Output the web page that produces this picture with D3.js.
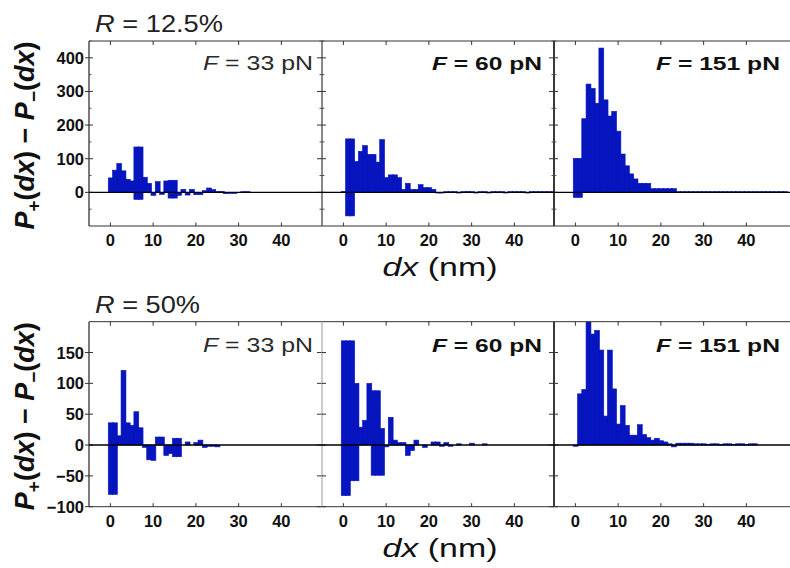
<!DOCTYPE html>
<html><head><meta charset="utf-8">
<script src="https://cdn.jsdelivr.net/npm/d3@7"></script>
<style>body{margin:0;background:#fff} svg{display:block}</style>
</head><body>
<svg id="c" width="790" height="568"></svg>
<script>
// ---------------- data ----------------
const forceLabels = ["33", "60", "151"];
const ratioLabels = ["12.5%", "50%"];
const xTickValues = [0, 10, 20, 30, 40];
const yTicksTop = [0, 100, 200, 300, 400];
const yMinorTop = [-50, 50, 150, 250, 350, 450];
const yTicksBottom = [-100, -50, 0, 50, 100, 150];
const yDomainTop = [-100, 450];
const yDomainBottom = [-100, 200];

// P+(dx) - P-(dx), one value per 1-nm bin, bin index = dx (starting at 0)
const r125_f33 = [43, 66, 86, 64, 39, 34, 135, 135, 45, 27, -9, 32, -6, 34, 36, 36, -9, 9, -8, 9, -7, -7, 5, 13, 8, 3, 3, -4, -3, -3, 0, 2, 2];
const r125_f60 = [3, 159, 159, 92, 122, 139, 113, 113, 90, 157, 44, 52, 52, 44, 9, 27, 9, 9, 23, 14, 14, 9, -2, -2, 2, 2, 2, -2, 2, 3, 2, -2, 2, 2, -2, 2, 2, 2, -2, 2, 2, 2, 2, -2, 2, 2, 2, 2, 2, 2];
const r125_f151 = [101, 101, 219, 322, 309, 265, 429, 275, 227, 241, 182, 114, 79, 55, 40, 27, 27, 27, 11, 11, 11, 11, 11, 11, 2, 2, 2, 2, 2, 2, 2, 2, 2, 2, 2, 2, 2, 2, 2, 2, 2, 2, 2, 2, 2, 2, 2, 2, 2, 2];
const r50_f33 = [36, 36, 15, 121, 36, 32, 54, 28, -4, -24, -25, 13, 13, -17, -14, 11, 11, 0, 5, 0, 4, 8, -4, -2, -2, -3];
const r50_f60 = [169, 169, 169, 100, 29, 40, 100, 88, 88, 27, -3, 45, 8, 4, 4, -17, -9, 8, 0, -4, 0, 5, 5, -2, 4, -2, 0, 2, 0, 0, 3, 0, 0, 2];
const r50_f151 = [-2, 83, 90, 205, 180, 186, 154, 47, 154, 91, 34, 64, 32, 16, 16, 33, 17, 12, 8, 11, 7, 5, 2, -3, 3, 3, 3, 3, 2, 2, 2, 1, 2, 2, 1, 2, 2, 1, 2, 2, 1, 2, 2];

// overlapping negative parts drawn in the same bins: [dx bin, value]
const r125_f33_neg = [[6, -21], [7, -21], [14, -17], [15, -17]];
const r125_f60_neg = [[1, -70], [2, -70]];
const r125_f151_neg = [[0, -15], [1, -15]];
const r50_f33_neg = [[0, -80], [1, -80], [15, -19], [16, -19]];
const r50_f60_neg = [[0, -82], [1, -82], [2, -58], [3, -58], [7, -49], [8, -49], [9, -49]];
const r50_f151_neg = [];

const rows = [
  {ratio: ratioLabels[0], series: [r125_f33, r125_f60, r125_f151], neg: [r125_f33_neg, r125_f60_neg, r125_f151_neg], dom: yDomainTop, ticks: yTicksTop, minor: yMinorTop},
  {ratio: ratioLabels[1], series: [r50_f33, r50_f60, r50_f151], neg: [r50_f33_neg, r50_f60_neg, r50_f151_neg], dom: yDomainBottom, ticks: yTicksBottom, minor: []}
];

// ---------------- layout ----------------
const svg = d3.select("#c");
const BAR = "#0615be";
const FONT = "'Liberation Sans', Arial, Helvetica, sans-serif";
const panelLeft = [89, 322, 554];
const panelWidth = [233, 232, 242];
const pxPerNm = 4.275;
const rowTop = [41, 321.7];
const rowH = 185;

rows.forEach((row, ri) => {
  const top = rowTop[ri], bottom = top + rowH;
  const y = d3.scaleLinear().domain(row.dom).range([bottom, top]);
  const g = svg.append("g");

  // row label R = ...
  const rt = g.append("text").attr("x", 95).attr("y", top - 9)
    .attr("font-family", FONT).attr("font-size", 24).attr("fill", "#222")
    .attr("textLength", ri === 0 ? 128 : 105).attr("lengthAdjust", "spacingAndGlyphs");
  rt.append("tspan").attr("font-style", "italic").text("R");
  rt.append("tspan").text(" = " + row.ratio);

  row.series.forEach((vals, pi) => {
    const L = panelLeft[pi], W = panelWidth[pi];
    const x = d3.scaleLinear().domain([-5, -5 + W / pxPerNm]).range([L, L + W]);
    const clipId = "clip" + ri + pi;
    svg.append("clipPath").attr("id", clipId).append("rect")
      .attr("x", L).attr("y", top).attr("width", W).attr("height", rowH);
    const pg = g.append("g").attr("clip-path", `url(#${clipId})`);

    const bars = vals.map((v, i) => ({dx: i, v}))
      .concat(row.neg[pi].map(d => ({dx: d[0], v: d[1]})));
    pg.selectAll("rect.bar").data(bars).join("rect").attr("class", "bar")
      .attr("x", d => x(d.dx - 0.5))
      .attr("width", d => x(d.dx + 0.5) - x(d.dx - 0.5) + 0.6)
      .attr("y", d => Math.min(y(0), y(d.v)))
      .attr("height", d => Math.abs(y(d.v) - y(0)))
      .attr("fill", BAR).attr("stroke", BAR).attr("stroke-width", 0.6);

    // frame
    const frameColor = "#333";
    g.append("line").attr("x1", L).attr("x2", L + W).attr("y1", top).attr("y2", top).attr("stroke", frameColor);
    g.append("line").attr("x1", L).attr("x2", L + W).attr("y1", bottom).attr("y2", bottom).attr("stroke", frameColor);
    g.append("line").attr("x1", L).attr("x2", L).attr("y1", top).attr("y2", bottom)
      .attr("stroke", (pi === 1 && ri === 1) ? "#bbb" : frameColor).attr("stroke-width", pi === 0 ? 1.3 : 1);
    if (pi < 2) g.append("line").attr("x1", L + W).attr("x2", L + W).attr("y1", top).attr("y2", bottom)
      .attr("stroke", pi === 0 ? "#bbb" : "#111").attr("stroke-width", pi === 1 ? 1.6 : 1);

    // x ticks (inside, top and bottom) + labels
    xTickValues.forEach(t => {
      g.append("line").attr("x1", x(t)).attr("x2", x(t)).attr("y1", top).attr("y2", top + 4).attr("stroke", "#333");
      g.append("line").attr("x1", x(t)).attr("x2", x(t)).attr("y1", bottom).attr("y2", bottom - 3.5).attr("stroke", "#333");
    });
    g.selectAll("text.xt" + pi).data(xTickValues).join("text")
      .attr("x", d => x(d)).attr("y", bottom + 20)
      .attr("text-anchor", "middle").attr("font-family", FONT).attr("font-weight", "bold")
      .attr("font-size", 16.5).attr("fill", "#111").text(d => d);

    // y ticks (inside, left and right)
    row.ticks.forEach(t => {
      g.append("line").attr("x1", L + (pi === 0 ? -4 : 0)).attr("x2", L + 4).attr("y1", y(t)).attr("y2", y(t)).attr("stroke", "#333");
      if (pi < 2) g.append("line").attr("x1", L + W - 5).attr("x2", L + W).attr("y1", y(t)).attr("y2", y(t)).attr("stroke", "#333");
    });
    row.minor.forEach(t => {
      g.append("line").attr("x1", L).attr("x2", L + 2.5).attr("y1", y(t)).attr("y2", y(t)).attr("stroke", "#555");
      if (pi < 2) g.append("line").attr("x1", L + W - 2.5).attr("x2", L + W).attr("y1", y(t)).attr("y2", y(t)).attr("stroke", "#555");
    });

    // force label
    const ft = g.append("text").attr("x", [203, 432, 656][pi]).attr("y", ri === 0 ? 69.5 : 352)
      .attr("font-family", FONT).attr("font-size", pi === 0 ? 20 : 19)
      .attr("font-weight", pi === 0 ? "normal" : "bold").attr("fill", pi === 0 ? "#2a2a2a" : "#111")
      .attr("textLength", [110, 110, 124][pi]).attr("lengthAdjust", "spacingAndGlyphs");
    ft.append("tspan").attr("font-style", "italic").text("F");
    ft.append("tspan").text(" = " + forceLabels[pi] + " pN");
  });

  // zero line across all panels
  g.append("line").attr("x1", panelLeft[0]).attr("x2", 790).attr("y1", y(0)).attr("y2", y(0))
    .attr("stroke", "#000").attr("stroke-width", 1.4);

  // y tick labels
  g.selectAll("text.yt").data(row.ticks).join("text")
    .attr("x", 84).attr("y", d => y(d) + 6)
    .attr("text-anchor", "end").attr("font-family", FONT).attr("font-weight", "bold")
    .attr("font-size", 16.5).attr("fill", "#111")
    .text(d => d < 0 ? "\u2212" + Math.abs(d) : d);

  // x axis title
  const xt = g.append("text").attr("x", 440).attr("y", bottom + 50)
    .attr("text-anchor", "middle").attr("font-family", FONT).attr("font-size", 26).attr("fill", "#111")
    .attr("textLength", 115).attr("lengthAdjust", "spacingAndGlyphs");
  xt.append("tspan").attr("font-style", "italic").text("dx");
  xt.append("tspan").text(" (nm)");

  // y axis title
  const yt = g.append("text").attr("transform", `translate(34,${(top + bottom) / 2 + 2}) rotate(-90)`)
    .attr("text-anchor", "middle").attr("font-family", FONT).attr("font-size", 27)
    .attr("font-weight", "bold").attr("fill", "#111");
  yt.append("tspan").attr("font-style", "italic").text("P");
  yt.append("tspan").attr("font-size", 19).attr("dy", 6).text("+");
  yt.append("tspan").attr("dy", -6).text("(");
  yt.append("tspan").attr("font-style", "italic").text("dx");
  yt.append("tspan").text(") \u2212 ");
  yt.append("tspan").attr("font-style", "italic").text("P");
  yt.append("tspan").attr("font-size", 19).attr("dy", 6).text("\u2212");
  yt.append("tspan").attr("dy", -6).text("(");
  yt.append("tspan").attr("font-style", "italic").text("dx");
  yt.append("tspan").text(")");
});
</script>
</body></html>
